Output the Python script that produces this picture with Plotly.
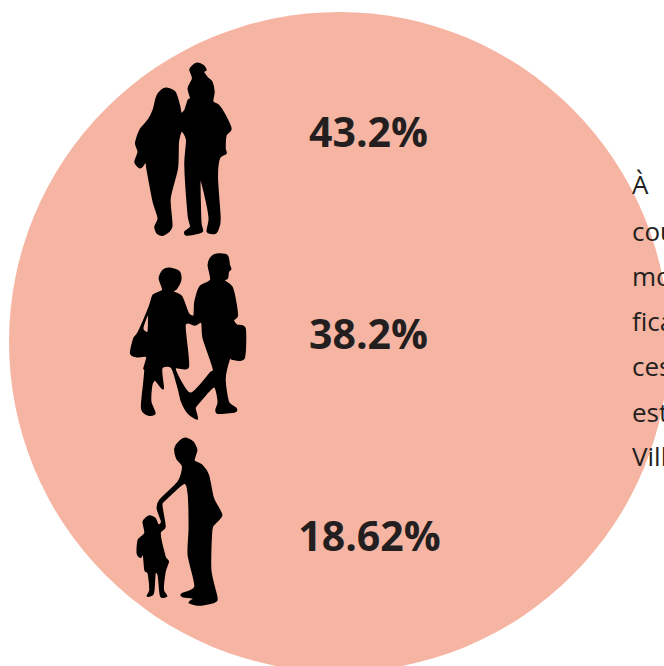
import plotly.graph_objects as go

# Data
percent_values = [43.2, 38.2, 18.62]
label_rows = [137, 339, 541]
label_cols = [368.5, 368.5, 369.5]
side_words = ["À", "couples", "moins", "fication", "ces", "est", "Ville"]
side_rows = [184, 231, 276, 321, 366, 412, 456]

SALMON = "#F6B5A3"
INK = "#231F20"

# Silhouette outlines, traced as (x, y) in a 3x crop with its own origin
family = [[(232,25),(250,32),(258,45),(250,50),(262,68),(275,80),(282,110),(278,140),(295,150),(315,180),(333,222),(318,240),(315,280),(318,295),(298,310),(292,370),(300,490),(295,520),(285,535),(262,530),(268,490),(255,420),(240,370),(242,500),(246,530),(200,540),(195,530),(212,515),(205,480),(195,330),(200,255),(185,228),(175,260),(172,340),(150,430),(155,515),(130,540),(112,535),(105,515),(115,490),(100,440),(82,345),(78,320),(70,330),(60,338),(45,322),(55,290),(47,265),(60,225),(85,195),(100,165),(110,125),(125,105),(140,100),(165,112),(178,150),(183,175),(195,165),(205,135),(212,130),(205,100),(218,70),(210,45),(215,35)]]
couple = [[(295,27),(322,32),(328,60),(332,72),(325,80),(322,100),(310,105),(335,125),(345,160),(352,212),(340,225),(350,240),(375,250),(372,340),(335,342),(330,335),(315,400),(325,470),(348,490),(345,500),(295,505),(288,495),(295,470),(282,425),(235,475),(225,490),(232,522),(205,505),(185,470),(175,430),(155,368),(125,370),(130,430),(118,420),(105,405),(95,420),(92,470),(105,505),(85,510),(65,490),(72,410),(75,375),(72,370),(80,335),(50,335),(32,325),(42,280),(55,262),(88,185),(100,150),(128,135),(118,100),(130,75),(150,70),(178,80),(182,105),(170,130),(158,140),(185,155),(205,205),(222,212),(225,170),(240,125),(272,105),(265,60),(275,35)],
          [(210,445),(270,385),(280,370),(250,280),(245,232),(225,240),(195,240),(205,365),(165,370)],
          [(85,205),(68,250),(84,262)]]
parent = [[(195,25),(218,35),(230,60),(222,92),(245,105),(265,135),(280,205),(305,255),(285,280),(275,300),(272,420),(290,500),(285,515),(240,525),(208,518),(222,505),(190,500),(185,492),(225,470),(205,375),(208,295),(205,190),(192,160),(135,210),(125,225),(135,290),(120,310),(135,380),(145,395),(135,425),(130,480),(140,498),(122,498),(115,435),(105,430),(100,490),(82,498),(90,480),(85,430),(75,420),(70,370),(62,382),(52,370),(55,330),(75,310),(70,275),(88,258),(105,265),(115,285),(125,275),(112,235),(120,210),(175,155),(188,110),(170,85),(165,55),(175,38)]]


def to_path(loops, ox, oy):
    """Closed Catmull-Rom spline through each traced loop."""
    parts = []
    for loop in loops:
        pts = [(ox + x / 3, oy + y / 3) for x, y in loop]
        n = len(pts)
        seg = [f"M{pts[0][0]:.1f},{pts[0][1]:.1f}"]
        for i in range(n):
            p0, p1, p2, p3 = pts[i - 1], pts[i], pts[(i + 1) % n], pts[(i + 2) % n]
            c1 = (p1[0] + (p2[0] - p0[0]) / 8, p1[1] + (p2[1] - p0[1]) / 8)
            c2 = (p2[0] - (p3[0] - p1[0]) / 8, p2[1] - (p3[1] - p1[1]) / 8)
            seg.append(f"C{c1[0]:.1f},{c1[1]:.1f} {c2[0]:.1f},{c2[1]:.1f} {p2[0]:.1f},{p2[1]:.1f}")
        parts.append(" ".join(seg) + " Z")
    return " ".join(parts)


fig = go.Figure()
fig.add_shape(type="circle", x0=9, x1=669, y0=12, y1=672, xref="x", yref="y",
              fillcolor=SALMON, line_width=0, layer="below")
for loops, ox, oy in [(family, 120, 55), (couple, 120, 245), (parent, 120, 430)]:
    fig.add_shape(type="path", path=to_path(loops, ox, oy), xref="x", yref="y",
                  fillcolor="#000000", line=dict(color="#000000", width=1.5), layer="above")

fig.add_trace(go.Scatter(
    x=label_cols, y=label_rows, mode="text",
    text=[f"{v}%" for v in percent_values],
    textposition="middle center",
    textfont=dict(family="Open Sans", size=41, color=INK, weight=700),
    hoverinfo="skip", showlegend=False, cliponaxis=False,
))
for word, row in zip(side_words, side_rows):
    fig.add_annotation(x=631, y=row, text=word, xref="x", yref="y",
                       xanchor="left", yanchor="middle", showarrow=False,
                       align="left", borderpad=0,
                       font=dict(family="Open Sans", size=26, color=INK))

fig.update_xaxes(range=[0, 664], visible=False, fixedrange=True)
fig.update_yaxes(range=[666, 0], visible=False, fixedrange=True)
fig.update_layout(width=664, height=666, margin=dict(l=0, r=0, t=0, b=0),
                  paper_bgcolor="white", plot_bgcolor="white", showlegend=False)

fig.write_html("out.html", config={"displayModeBar": False},
               post_script="document.body.style.margin='0';document.documentElement.style.overflow='hidden';")
